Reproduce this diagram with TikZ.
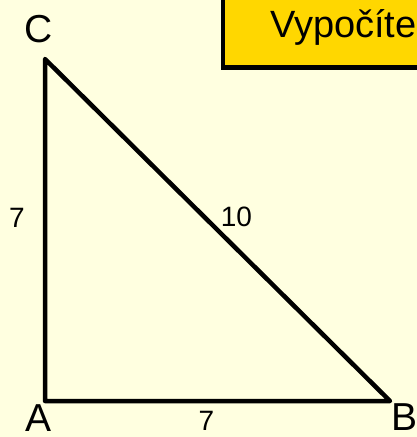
\documentclass[tikz,border=0pt]{standalone}
\usepackage{fontspec}
\setmainfont{Liberation Sans}
\definecolor{bgyellow}{HTML}{FFFFE0}
\definecolor{boxgold}{HTML}{FFD700}
\tikzset{
  edge/.style={line width=4.5pt, line join=round, line cap=round, black},
  vlabel/.style={inner sep=0pt, font=\fontsize{39}{39}\selectfont},
  slabel/.style={inner sep=0pt, font=\fontsize{28}{28}\selectfont},
  titlebox/.style={draw=black, line width=4.5pt, fill=boxgold, inner sep=0pt},
}
\begin{document}
\begin{tikzpicture}[x=1pt,y=-1pt]
  \useasboundingbox (0,0) rectangle (417,437);
  \clip (0,0) rectangle (417,437);
  \fill[bgyellow] (0,0) rectangle (417,437);
  % title box (cut off by picture edge)
  \node[titlebox, anchor=south west, minimum width=260pt, minimum height=110pt] (box) at (220.5,69.75) {};
  \node[inner sep=0pt, anchor=base west, font=\fontsize{38}{38}\selectfont] (title) at (270,37) {Vypočíte};
  % triangle
  \coordinate (A) at (45,401);
  \coordinate (B) at (390,401);
  \coordinate (C) at (45,59);
  \draw[edge] (A) -- (B) -- (C) -- cycle;
  % vertex labels
  \node[vlabel, anchor=base] (lA) at (38.5,431.5) {A};
  \node[vlabel, anchor=base west] (lB) at (391,430) {B};
  \node[vlabel, anchor=base] (lC) at (39,42) {C};
  % side labels
  \node[slabel, anchor=base] (sAC) at (17,227) {7};
  \node[slabel, anchor=base] (sBC) at (236.5,226) {10};
  \node[slabel, anchor=base] (sAB) at (206.5,430) {7};
\end{tikzpicture}
\end{document}
